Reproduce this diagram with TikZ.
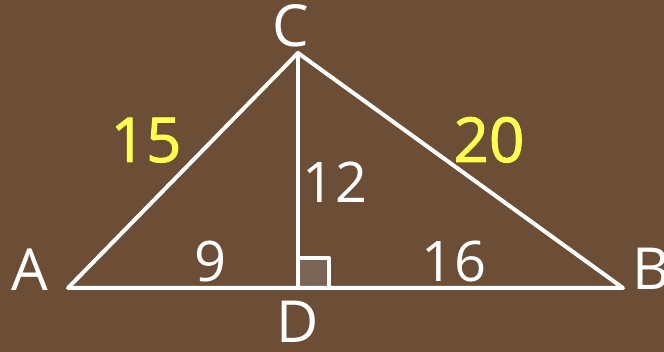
\documentclass[tikz,border=0pt]{standalone}
\usepackage{fontspec}
\setmainfont{Open Sans}
\definecolor{bgbrown}{RGB}{108,77,53}
\definecolor{sqfill}{RGB}{122,101,84}
\definecolor{numyellow}{RGB}{255,255,80}
\begin{document}
\begin{tikzpicture}[x=1pt,y=1pt,
  edge/.style={draw=white,line width=4pt,line join=round,line cap=round},
  vlabel/.style={anchor=base,text=white,inner sep=0pt,font=\fontsize{58}{60}\selectfont},
  nlabel/.style={anchor=base,text=white,inner sep=0pt,font=\fontsize{56}{58}\selectfont},
  ylabel/.style={anchor=base,text=numyellow,inner sep=0pt,font=\fontsize{62}{64}\selectfont\addfontfeatures{FakeBold=1.5}}]
\fill[bgbrown] (0,0) rectangle (664,352);
\useasboundingbox (0,0) rectangle (664,352);
\coordinate (A) at (68,64);
\coordinate (B) at (623,64);
\coordinate (C) at (298,299);
\coordinate (D) at (298,64);
\fill[sqfill] (298,64) rectangle (329,94);
\draw[edge] (298,94) -- (329,94) -- (329,64);
\draw[edge] (A) -- (B) -- (C) -- cycle;
\draw[edge] (C) -- (D);
\node[vlabel] (lA) at (30,61) {A};
\node[vlabel] (lB) at (651,62) {B};
\node[vlabel] (lC) at (291,305) {C};
\node[vlabel] (lD) at (298,9) {D};
\node[ylabel] (l15) at (146,190) {15};
\node[ylabel] (l20) at (489,190) {20};
\node[nlabel] (l12) at (335,149) {12};
\node[nlabel] (l9) at (211,70) {9};
\node[nlabel] (l16) at (454,70) {16};
\end{tikzpicture}
\end{document}
